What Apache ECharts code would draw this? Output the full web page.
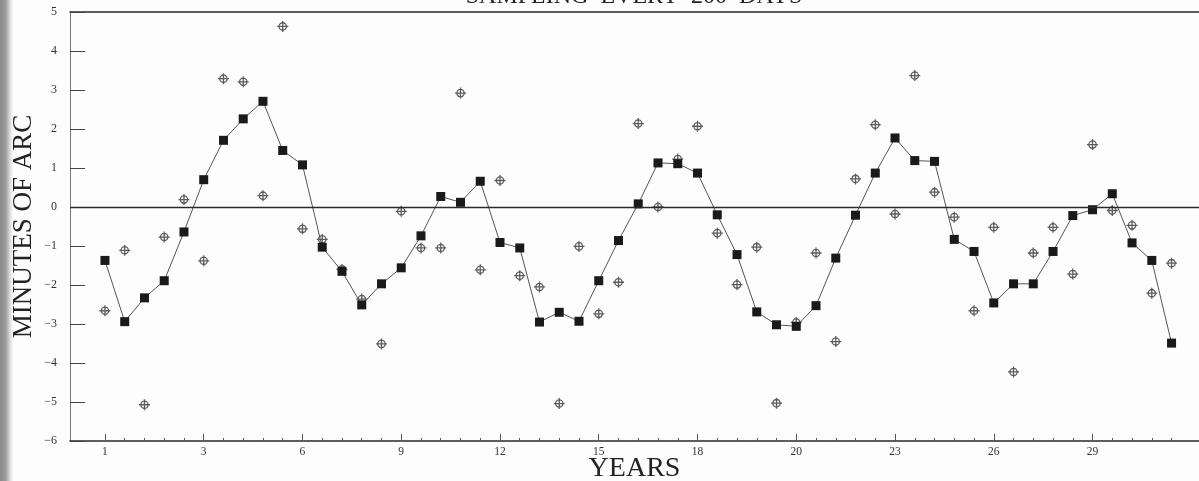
<!DOCTYPE html>
<html>
<head>
<meta charset="utf-8">
<script src="https://cdn.jsdelivr.net/npm/echarts@6/dist/echarts.min.js"></script>
<style>
html,body{margin:0;padding:0;background:#fdfdfd;}
#chart{width:1199px;height:481px;}
</style>
</head>
<body>
<div id="chart"></div>
<script>
// Sample index (one sample every 200 days)
var smoothed = [-1.37, -2.94, -2.33, -1.89, -0.64, 0.70, 1.71, 2.26, 2.71, 1.45,
  1.08, -1.03, -1.65, -2.51, -1.97, -1.56, -0.74, 0.27, 0.12, 0.66,
  -0.91, -1.05, -2.95, -2.70, -2.93, -1.89, -0.86, 0.08, 1.13, 1.11,
  0.87, -0.20, -1.22, -2.69, -3.02, -3.06, -2.53, -1.31, -0.21, 0.87,
  1.77, 1.19, 1.17, -0.83, -1.14, -2.46, -1.97, -1.97, -1.14, -0.22,
  -0.07, 0.34, -0.92, -1.37, -3.49];
var observed = [-2.66, -1.11, -5.07, -0.77, 0.19, -1.38, 3.29, 3.21, 0.29, 4.63,
  -0.56, -0.83, -1.60, -2.36, -3.51, -0.11, -1.05, -1.05, 2.92, -1.61,
  0.68, -1.76, -2.05, -5.04, -1.01, -2.74, -1.93, 2.14, 0.00, 1.23,
  2.07, -0.67, -1.99, -1.03, -5.03, -2.96, -1.18, -3.45, 0.72, 2.11,
  -0.18, 3.37, 0.38, -0.26, -2.66, -0.52, -4.23, -1.18, -0.52, -1.72,
  1.60, -0.09, -0.47, -2.21, -1.44];
var tickSamples = [0, 5, 10, 15, 20, 25, 30, 35, 40, 45, 50];
var tickLabels = ['1', '3', '6', '9', '12', '15', '18', '20', '23', '26', '29'];

var allSamples = smoothed.map(function (v, i) { return i; });
var smoothedData = smoothed.map(function (v, i) { return [i, v]; });
var observedData = observed.map(function (v, i) { return [i, v]; });

var serif = '"Liberation Serif", "DejaVu Serif", serif';
var ink = '#2a2a2a';
var xMin = -1.77, xMax = 55.39;

var chart = echarts.init(document.getElementById('chart'), null, {renderer: 'canvas'});
chart.setOption({
  animation: false,
  backgroundColor: '#fdfdfd',
  grid: {left: 70, right: 0, top: 12, bottom: 40, containLabel: false, outerBoundsMode: 'none'},
  xAxis: [
    {
      type: 'value', position: 'bottom', min: xMin, max: xMax,
      axisLine: {show: true, onZero: false, lineStyle: {color: ink, width: 1.5}},
      axisTick: {show: true, inside: true, length: 7, customValues: tickSamples, lineStyle: {color: '#555', width: 1}},
      axisLabel: {show: true, customValues: tickSamples, margin: 5, color: '#333',
        fontFamily: serif, fontSize: 11.5,
        formatter: function (v) { var k = tickSamples.indexOf(Math.round(v)); return k >= 0 ? tickLabels[k] : ''; }},
      splitLine: {show: false},
      name: 'YEARS', nameLocation: 'middle', nameGap: 14, nameMoveOverlap: false,
      nameTextStyle: {fontFamily: serif, fontSize: 28, color: '#222', verticalAlign: 'top'}
    },
    {
      type: 'value', position: 'bottom', min: xMin, max: xMax,
      axisLine: {show: false, onZero: false},
      axisTick: {show: true, inside: true, length: 3, customValues: allSamples, lineStyle: {color: '#555', width: 1}},
      axisLabel: {show: false},
      splitLine: {show: false}
    },
    {
      type: 'value', position: 'top', min: xMin, max: xMax,
      axisLine: {show: true, onZero: false, lineStyle: {color: ink, width: 1.5}},
      axisTick: {show: false}, axisLabel: {show: false}, splitLine: {show: false}
    }
  ],
  yAxis: {
    type: 'value', min: -6, max: 5, interval: 1,
    axisLine: {show: true, onZero: false, lineStyle: {color: '#777', width: 1}},
    axisTick: {show: true, inside: true, length: 15, lineStyle: {color: '#444', width: 1}},
    axisLabel: {color: '#333', fontFamily: serif, fontSize: 12, margin: 13,
      formatter: function (v) { return v < 0 ? '\u2212' + Math.abs(v) : String(v); }},
    splitLine: {show: false},
    name: 'MINUTES OF ARC', nameLocation: 'middle', nameGap: 33, nameRotate: 90, nameMoveOverlap: false,
    nameTextStyle: {fontFamily: serif, fontSize: 27, color: '#222'}
  },
  graphic: [
    {type: 'rect', left: 0, top: 0, shape: {width: 13, height: 481},
      style: {fill: new echarts.graphic.LinearGradient(0, 0, 1, 0, [
        {offset: 0, color: '#8a8a8a'}, {offset: 0.45, color: '#9c9c9c'},
        {offset: 0.75, color: '#d8d8d8'}, {offset: 1, color: '#fdfdfd'}])}, z: -1, silent: true},
    {type: 'text', x: 634, y: -3, silent: true,
      style: {text: 'SAMPLING  EVERY  200  DAYS', font: '24px ' + serif, fill: '#222',
        textAlign: 'center', textVerticalAlign: 'middle'}}
  ],
  series: [
    {
      name: 'smoothed', type: 'line', xAxisIndex: 0, data: smoothedData,
      symbol: 'rect', symbolSize: 9, showSymbol: true,
      lineStyle: {color: '#555', width: 1},
      itemStyle: {color: '#1a1a1a', borderWidth: 0},
      z: 3,
      markLine: {silent: true, symbol: 'none', label: {show: false},
        lineStyle: {color: ink, width: 1.3, type: 'solid'},
        data: [{yAxis: 0}]}
    },
    {
      name: 'observed', type: 'scatter', xAxisIndex: 0, data: observedData,
      symbol: 'path://M0,-6L0,6M-6,0L6,0M4,0A4,4 0 1 1 -4,0A4,4 0 1 1 4,0Z',
      symbolSize: 11,
      itemStyle: {color: 'rgba(0,0,0,0)', borderColor: '#333', borderWidth: 1.3},
      z: 2
    }
  ]
});
</script>
</body>
</html>
